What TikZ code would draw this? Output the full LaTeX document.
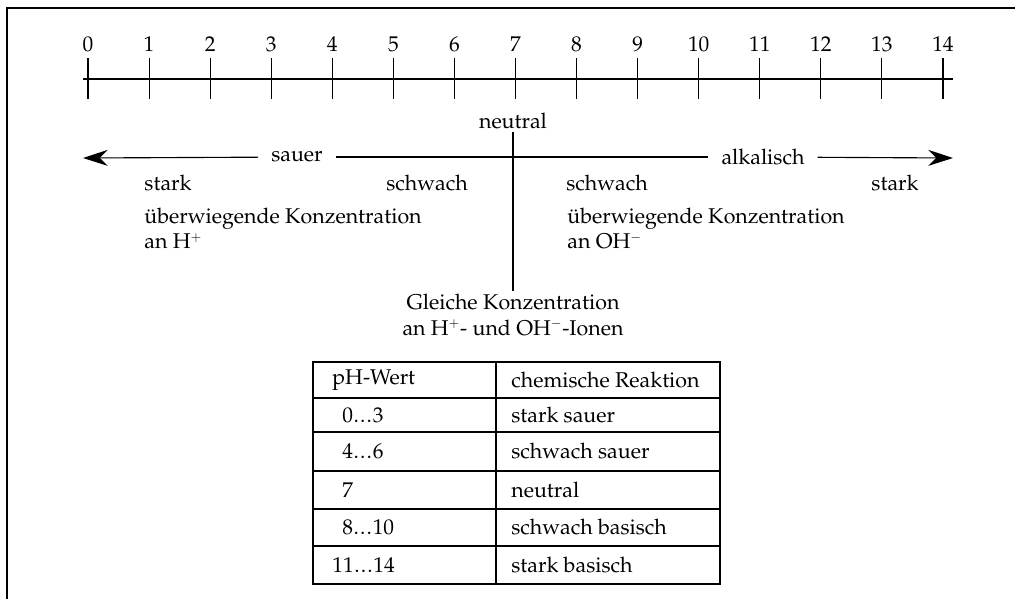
\documentclass[tikz,border=0pt]{standalone}
\usepackage[T1]{fontenc}
\usepackage{mathpazo}
\usepackage{tikz}
\usetikzlibrary{arrows.meta}

\newcommand{\ionp}{$^{\scriptscriptstyle +}$}
\newcommand{\ionm}{$^{\scriptscriptstyle -}$}
\newcommand{\bis}{\kern0.5pt.\kern0.8pt.\kern0.8pt.\kern0.5pt}

\begin{document}
\begin{tikzpicture}[x=0.025cm, y=-0.025cm, line width=0.8pt,
    every node/.style={font=\fontsize{15.2}{17.8}\selectfont, inner sep=2pt},
    framebox/.style={line width=1.3pt},
    dirlabel/.style={inner xsep=9pt},
    tip/.style={-{Stealth[length=6.2mm, width=4mm, inset=2mm]}}]
    \useasboundingbox (0,0) rectangle (1015,599);

    % Frame
    \draw[framebox] (1015,8) -- (7,8) -- (7,599);

    % pH scale
    \draw (83,79) -- (953,79);
    \foreach \i in {0,...,14} {
        \draw (88+61.07*\i,58) -- ++(0,41);
        \node (num\i) at (88+61.07*\i,44) {\i};
    }

    % Arrow row
    \node (neutral) at (513,121) {neutral};
    \node[dirlabel] (sauer) at (297,157) {sauer};
    \node[dirlabel] (alkalisch) at (763,157) {alkalisch};
    \coordinate (lefttip) at (83,158);
    \coordinate (righttip) at (953,158);
    \draw[tip] (sauer) -- (lefttip);
    \draw (sauer) -- (alkalisch);
    \draw[tip] (alkalisch) -- (righttip);

    % Strength labels
    \node (starkL) at (168,183) {stark};
    \node (schwachL) at (427,183) {schwach};
    \node (schwachR) at (607,183) {schwach};
    \node (starkR) at (895,183) {stark};

    % Concentrations
    \node[anchor=north west, align=left] (konzH) at (141,205) {\"uberwiegende Konzentration\\an H\ionp};
    \node[anchor=north west, align=left] (konzOH) at (564,205) {\"uberwiegende Konzentration\\an OH\ionm};
    \node[align=center] (gleich) at (513,315) {Gleiche Konzentration\\an H\ionp- und OH\ionm-Ionen};
    \draw (neutral.south) -- (gleich.north);

    % Table
    \draw (313,362) rectangle (720,584);
    \draw (496,362) -- (496,584);
    \foreach \y in {398,432,471,509,546}
        \draw (313,\y) -- (720,\y);
    \node[anchor=west] (headA) at (329,380) {pH-Wert};
    \node[anchor=west] (headB) at (508,380) {chemische Reaktion};
    \node[anchor=west] (rowA1) at (339,415) {0\bis3};
    \node[anchor=west] (rowB1) at (508,415) {stark sauer};
    \node[anchor=west] (rowA2) at (339,451) {4\bis6};
    \node[anchor=west] (rowB2) at (508,451) {schwach sauer};
    \node[anchor=west] (rowA3) at (339,490) {7};
    \node[anchor=west] (rowB3) at (508,490) {neutral};
    \node[anchor=west] (rowA4) at (339,527) {8\bis10};
    \node[anchor=west] (rowB4) at (508,527) {schwach basisch};
    \node[anchor=west] (rowA5) at (329,565) {11\bis14};
    \node[anchor=west] (rowB5) at (508,565) {stark basisch};
\end{tikzpicture}
\end{document}
